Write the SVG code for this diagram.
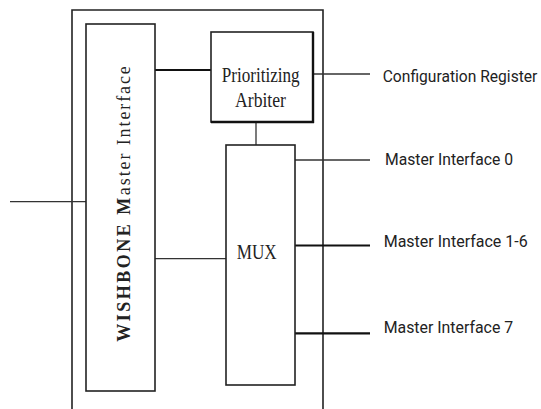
<svg xmlns="http://www.w3.org/2000/svg" width="541" height="409" viewBox="0 0 541 409">
<style>
.box{fill:#fff;stroke:#222;stroke-width:1.6}
.thin{stroke:#333;stroke-width:1.3;fill:none}
.thick{stroke:#111;stroke-width:2.2;fill:none}
.serif{font-family:"Liberation Serif","Times New Roman",serif;fill:#222}
.sans{font-family:Roboto,"Liberation Sans",sans-serif;fill:#222;font-size:17px}
</style>
<rect width="541" height="409" fill="#fff"/>
<g id="outer"><path class="box" d="M72,415 V10 H323 V415" fill="none"/></g>
<g id="connectors">
<line class="thin" x1="10" y1="201.7" x2="86" y2="201.7"/>
<line class="thick" x1="155" y1="70" x2="211" y2="70"/>
<line class="thin" x1="256" y1="122" x2="256" y2="145"/>
<line class="thin" x1="155" y1="258.7" x2="226" y2="258.7"/>
<line class="thin" x1="313" y1="74" x2="370" y2="74"/>
<line class="thin" x1="295" y1="160" x2="370" y2="160"/>
<line class="thick" x1="295" y1="245.5" x2="370" y2="245.5"/>
<line class="thick" x1="295" y1="333.3" x2="370" y2="333.3"/>
</g>
<g id="wishbone">
<rect class="box" x="86" y="24" width="69" height="367"/>
<text class="serif" font-size="18" transform="translate(130,341.7) rotate(-90)"><tspan font-weight="bold" letter-spacing="2.5">WISHBONE M</tspan><tspan letter-spacing="1.9">aster Interface</tspan></text>
</g>
<g id="arbiter">
<rect class="box" x="211" y="32" width="102" height="90"/>
<line stroke="#111" stroke-width="2.4" x1="313" y1="32" x2="313" y2="123"/>
<line stroke="#111" stroke-width="2.4" x1="211" y1="122" x2="314" y2="122"/>
<text class="serif" font-size="20" x="221.7" y="82.3" textLength="78" lengthAdjust="spacingAndGlyphs">Prioritizing</text>
<text class="serif" font-size="20" x="235" y="107.3" textLength="51" lengthAdjust="spacingAndGlyphs">Arbiter</text>
</g>
<g id="mux">
<rect class="box" x="226" y="145" width="69" height="240"/>
<text class="serif" font-size="21" x="236.7" y="259.3" textLength="40" lengthAdjust="spacingAndGlyphs">MUX</text>
</g>
<g id="labels">
<text class="sans" transform="translate(382.7,81.7) scale(0.91,1)" x="0" y="0" textLength="170" lengthAdjust="spacingAndGlyphs">Configuration Register</text>
<text class="sans" x="385" y="164.5" textLength="128" lengthAdjust="spacingAndGlyphs">Master Interface 0</text>
<text class="sans" x="383.7" y="247" textLength="144" lengthAdjust="spacingAndGlyphs">Master Interface 1-6</text>
<text class="sans" x="383.7" y="333" textLength="129.5" lengthAdjust="spacingAndGlyphs">Master Interface 7</text>
</g>
</svg>
